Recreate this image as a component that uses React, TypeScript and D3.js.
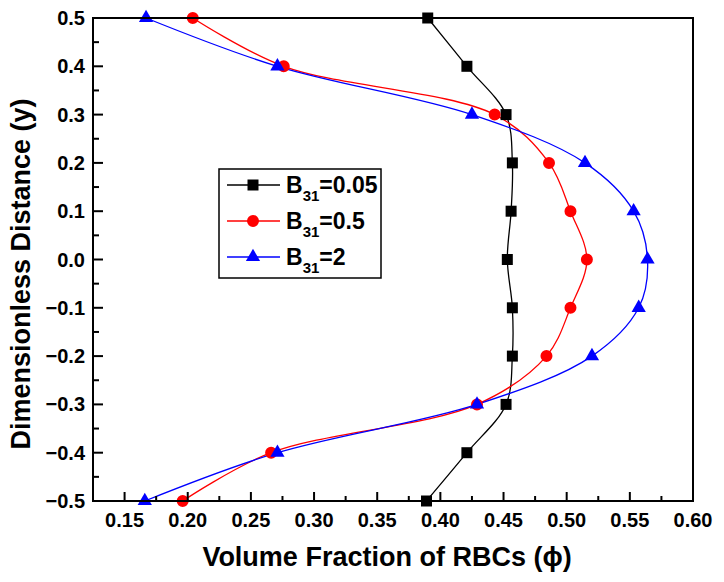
import React, { useRef, useEffect } from 'react';
import * as d3 from 'd3';

// y positions of the sampled points (dimensionless distance)
const yLevels = [0.5, 0.4, 0.3, 0.2, 0.1, 0.0, -0.1, -0.2, -0.3, -0.4, -0.5];
// volume fraction values per series
const phiB005 = [0.39, 0.421, 0.452, 0.457, 0.456, 0.453, 0.457, 0.457, 0.452, 0.421, 0.389];
const phiB05 = [0.204, 0.276, 0.443, 0.486, 0.503, 0.516, 0.503, 0.484, 0.429, 0.266, 0.196];
const phiB2 = [0.167, 0.271, 0.425, 0.5145, 0.553, 0.564, 0.557, 0.52, 0.429, 0.271, 0.166];
const seriesLabels = ['0.05', '0.5', '2'];

const xTicks = [0.15, 0.2, 0.25, 0.3, 0.35, 0.4, 0.45, 0.5, 0.55, 0.6];
const yTicks = [0.5, 0.4, 0.3, 0.2, 0.1, 0.0, -0.1, -0.2, -0.3, -0.4, -0.5];

const W = 724;
const H = 582;
const margin = { top: 18, right: 31, bottom: 81, left: 93 };
const FONT = '"Liberation Sans", Arial, Helvetica, sans-serif';

const App: React.FC = () => {
  const svgRef = useRef<SVGSVGElement>(null);

  useEffect(() => {
    const svg = d3.select(svgRef.current);
    svg.selectAll('*').remove();

    const x = d3.scaleLinear().domain([0.125, 0.6]).range([margin.left, W - margin.right]);
    const y = d3.scaleLinear().domain([-0.5, 0.5]).range([H - margin.bottom, margin.top]);

    const series = [
      { name: seriesLabels[0], values: phiB005, color: '#000000', symbol: d3.symbolSquare, size: 121 },
      { name: seriesLabels[1], values: phiB05, color: '#ff0000', symbol: d3.symbolCircle, size: 113 },
      { name: seriesLabels[2], values: phiB2, color: '#0000ff', symbol: d3.symbolTriangle, size: 88 },
    ];

    const line = d3
      .line<[number, number]>()
      .x((d) => x(d[0]))
      .y((d) => y(d[1]))
      .curve(d3.curveCatmullRom.alpha(0.5));

    const plot = svg.append('g');

    series.forEach((s) => {
      const pts: [number, number][] = s.values.map((v, i) => [v, yLevels[i]]);
      plot
        .append('path')
        .attr('d', line(pts))
        .attr('fill', 'none')
        .attr('stroke', s.color)
        .attr('stroke-width', 1.3);
    });

    series.forEach((s) => {
      const sym = d3.symbol().type(s.symbol).size(s.size);
      plot
        .selectAll(null)
        .data(s.values.map((v, i) => [v, yLevels[i]]))
        .enter()
        .append('path')
        .attr('d', sym)
        .attr('transform', (d) => `translate(${x(d[0])},${y(d[1])})`)
        .attr('fill', s.color);
    });

    // frame
    svg
      .append('rect')
      .attr('x', margin.left)
      .attr('y', margin.top)
      .attr('width', W - margin.left - margin.right)
      .attr('height', H - margin.top - margin.bottom)
      .attr('fill', 'none')
      .attr('stroke', '#000')
      .attr('stroke-width', 2);

    const x0 = margin.left;
    const y0 = H - margin.bottom;

    // x ticks (inside)
    const xMinor = xTicks.map((t) => t - 0.025);
    svg
      .selectAll(null)
      .data(xTicks)
      .enter()
      .append('line')
      .attr('x1', (d) => x(d))
      .attr('x2', (d) => x(d))
      .attr('y1', y0)
      .attr('y2', y0 - 9)
      .attr('stroke', '#000')
      .attr('stroke-width', 2);
    svg
      .selectAll(null)
      .data(xMinor.filter((d) => d > 0.13))
      .enter()
      .append('line')
      .attr('x1', (d) => x(d))
      .attr('x2', (d) => x(d))
      .attr('y1', y0)
      .attr('y2', y0 - 5)
      .attr('stroke', '#000')
      .attr('stroke-width', 2);
    svg
      .selectAll(null)
      .data(xTicks)
      .enter()
      .append('text')
      .attr('x', (d) => x(d))
      .attr('y', y0 + 26)
      .attr('text-anchor', 'middle')
      .attr('font-family', FONT)
      .attr('font-weight', 'bold')
      .attr('font-size', 20)
      .text((d) => d3.format('.2f')(d));

    // y ticks (inside)
    const yMinor = yTicks.slice(1).map((t) => t + 0.05);
    svg
      .selectAll(null)
      .data(yTicks)
      .enter()
      .append('line')
      .attr('x1', x0)
      .attr('x2', x0 + 10)
      .attr('y1', (d) => y(d))
      .attr('y2', (d) => y(d))
      .attr('stroke', '#000')
      .attr('stroke-width', 2);
    svg
      .selectAll(null)
      .data(yMinor)
      .enter()
      .append('line')
      .attr('x1', x0)
      .attr('x2', x0 + 6)
      .attr('y1', (d) => y(d))
      .attr('y2', (d) => y(d))
      .attr('stroke', '#000')
      .attr('stroke-width', 2);
    svg
      .selectAll(null)
      .data(yTicks)
      .enter()
      .append('text')
      .attr('x', x0 - 8)
      .attr('y', (d) => y(d) + 7)
      .attr('text-anchor', 'end')
      .attr('font-family', FONT)
      .attr('font-weight', 'bold')
      .attr('font-size', 20)
      .text((d) => d3.format('.1f')(d));

    // axis titles
    svg
      .append('text')
      .attr('x', 387)
      .attr('y', 566)
      .attr('text-anchor', 'middle')
      .attr('font-family', FONT)
      .attr('font-weight', 'bold')
      .attr('font-size', 27)
      .text('Volume Fraction of RBCs (\u03d5)');
    svg
      .append('text')
      .attr('transform', `translate(30,274) rotate(-90)`)
      .attr('text-anchor', 'middle')
      .attr('font-family', FONT)
      .attr('font-weight', 'bold')
      .attr('font-size', 27)
      .text('Dimensionless Distance (y)');

    // legend
    const lg = svg.append('g');
    lg.append('rect')
      .attr('x', 219)
      .attr('y', 169)
      .attr('width', 162)
      .attr('height', 109)
      .attr('fill', '#fff')
      .attr('stroke', '#000')
      .attr('stroke-width', 1.5);
    series.forEach((s, i) => {
      const cy = 185 + i * 36;
      lg.append('line')
        .attr('x1', 227)
        .attr('x2', 280)
        .attr('y1', cy)
        .attr('y2', cy)
        .attr('stroke', s.color)
        .attr('stroke-width', 1.3);
      lg.append('path')
        .attr('d', d3.symbol().type(s.symbol).size(s.size)())
        .attr('transform', `translate(253,${cy})`)
        .attr('fill', s.color);
      const t = lg
        .append('text')
        .attr('x', 286)
        .attr('y', cy + 8)
        .attr('font-family', FONT)
        .attr('font-weight', 'bold')
        .attr('font-size', 23);
      t.append('tspan').text('B');
      t.append('tspan').attr('font-size', 15).attr('dy', 8).text('31');
      t.append('tspan').attr('dy', -8).text(`=${s.name}`);
    });
  }, []);

  return (
    <svg
      ref={svgRef}
      width={W}
      height={H}
      style={{ position: 'absolute', left: 0, top: 0, background: '#fff' }}
    />
  );
};

export default App;
